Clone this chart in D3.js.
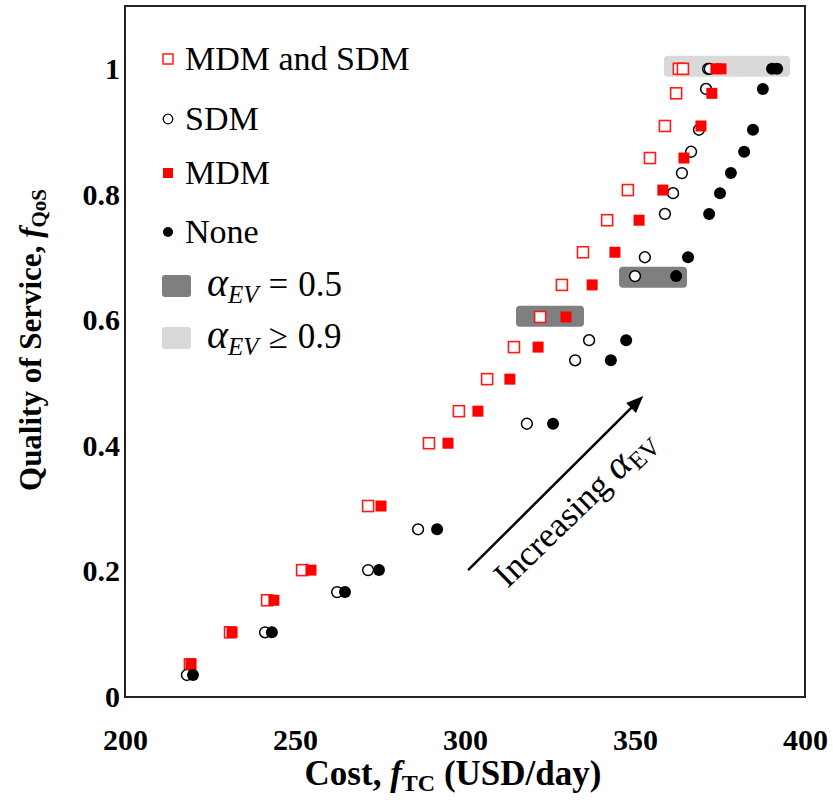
<!DOCTYPE html>
<html>
<head>
<meta charset="utf-8">
<script src="https://cdn.jsdelivr.net/npm/d3@7"></script>
<style>
body{margin:0;background:#fff}
svg{display:block}
</style>
</head>
<body>
<svg width="833" height="802"></svg>
<script>
var qosSquares=[0.052,0.103,0.154,0.202,0.304,0.404,0.455,0.506,0.557,0.605,0.656,0.708,0.759,0.807,0.858,0.909,0.961,1.0,1.0];
var costMdmSdm=[219.1,230.9,241.8,252.1,271.5,289.4,298.2,306.5,314.4,322.1,328.5,334.7,341.8,347.9,354.4,358.8,362.1,362.9,364.1];
var costMdm=[219.4,231.5,243.8,254.7,275.3,295.0,303.8,313.2,321.5,329.7,337.4,344.1,351.2,358.2,364.4,369.4,372.6,373.8,375.3];

var qosCircles=[0.035,0.103,0.167,0.202,0.267,0.435,0.536,0.568,0.670,0.700,0.769,0.802,0.834,0.868,0.903,0.968,1.0,1.0];
var costSdm=[218.2,241.2,262.4,271.5,286.2,318.2,332.4,336.5,350.0,352.9,358.8,361.2,363.8,366.5,368.8,370.9,371.5,372.0];
var costNone=[220.0,243.2,264.7,274.7,291.8,325.9,342.9,347.4,362.1,365.6,371.8,375.0,378.2,382.1,384.7,387.6,390.3,391.8];

// shaded alpha_EV zones
var zoneAlpha=["0.5","0.5","0.9"];
var zoneCost0=[315.0,345.3,358.5];
var zoneCost1=[335.0,365.3,395.6];
var zoneQos=[0.606,0.668,1.004];

var xTicks=[200,250,300,350,400];
var yTicks=[0,0.2,0.4,0.6,0.8,1];

var arrowFrom=[300.9,0.202];
var arrowTo=[352.4,0.479];

var svg=d3.select("svg");
var serif="'Liberation Serif','Times New Roman',serif";

var x=d3.scaleLinear().domain([200,400]).range([125,805]);
var y=d3.scaleLinear().domain([0,1.1]).range([697,6]);

function zoneColor(a){return a=="0.5"?"#7f7f7f":"#d9d9d9";}

//zones
svg.selectAll("rect.zone")
   .data(zoneAlpha.map(function(a,i){return {a:a,c0:zoneCost0[i],c1:zoneCost1[i],q:zoneQos[i]};}))
   .enter()
   .append("rect")
   .attr("class","zone")
   .attr("x",function(d){return x(d.c0);})
   .attr("width",function(d){return x(d.c1)-x(d.c0);})
   .attr("y",function(d){return y(d.q)-10.5;})
   .attr("height",21)
   .attr("rx",4)
   .attr("fill",function(d){return zoneColor(d.a);});

function pairs(cost,qos){return cost.map(function(c,i){return {c:c,q:qos[i]};});}

var sq=11;
//MDM and SDM : open squares
svg.append("g").selectAll("rect")
   .data(pairs(costMdmSdm,qosSquares))
   .enter()
   .append("rect")
   .attr("x",function(d){return x(d.c)-sq/2;})
   .attr("y",function(d){return y(d.q)-sq/2;})
   .attr("width",sq).attr("height",sq)
   .attr("fill","#fff")
   .attr("stroke","#ff1a1a")
   .attr("stroke-width",1.6);

//SDM : open circles
svg.append("g").selectAll("circle")
   .data(pairs(costSdm,qosCircles))
   .enter()
   .append("circle")
   .attr("cx",function(d){return x(d.c);})
   .attr("cy",function(d){return y(d.q);})
   .attr("r",5.4)
   .attr("fill","#fff")
   .attr("stroke","#000")
   .attr("stroke-width",1.5);

//MDM : filled squares
svg.append("g").selectAll("rect")
   .data(pairs(costMdm,qosSquares))
   .enter()
   .append("rect")
   .attr("x",function(d){return x(d.c)-sq/2;})
   .attr("y",function(d){return y(d.q)-sq/2;})
   .attr("width",sq).attr("height",sq)
   .attr("fill","#ff0000");

//None : filled circles
svg.append("g").selectAll("circle")
   .data(pairs(costNone,qosCircles))
   .enter()
   .append("circle")
   .attr("cx",function(d){return x(d.c);})
   .attr("cy",function(d){return y(d.q);})
   .attr("r",6)
   .attr("fill","#000");

//frame
svg.append("rect")
   .attr("x",125).attr("y",6)
   .attr("width",680).attr("height",691)
   .attr("fill","none")
   .attr("stroke","#222")
   .attr("stroke-width",2);

//axes
var xAxis=svg.append("g")
   .attr("transform","translate(0,697)")
   .call(d3.axisBottom(x).tickValues(xTicks).tickSize(0).tickPadding(32).tickFormat(d3.format("d")));
var yAxis=svg.append("g")
   .attr("transform","translate(125,0)")
   .call(d3.axisLeft(y).tickValues(yTicks).tickSize(0).tickPadding(5).tickFormat(function(d){return d===0?"0":d===1?"1":d3.format(".1f")(d);}));
[xAxis,yAxis].forEach(function(a){
	a.select(".domain").remove();
	a.selectAll("text")
	 .attr("fill","#000")
	 .style("font-family",serif)
	 .style("font-size","30px")
	 .style("font-weight","bold");
});

//axis titles
var xt=svg.append("text")
   .attr("x",453).attr("y",785)
   .attr("text-anchor","middle")
   .style("font-family",serif).style("font-size","35px").style("font-weight","bold");
xt.append("tspan").text("Cost, ");
xt.append("tspan").style("font-style","italic").text("f");
xt.append("tspan").attr("dy",6).style("font-size","24px").text("TC");
xt.append("tspan").attr("dy",-6).text(" (USD/day)");

var yt=svg.append("text")
   .attr("transform","translate(41,340) rotate(-90)")
   .attr("text-anchor","middle")
   .style("font-family",serif).style("font-size","31px").style("font-weight","bold");
yt.append("tspan").text("Quality of Service, ");
yt.append("tspan").style("font-style","italic").text("f");
yt.append("tspan").attr("dy",5).style("font-size","21px").text("QoS");

//arrow
var ax0=x(arrowFrom[0]),ay0=y(arrowFrom[1]),ax1=x(arrowTo[0]),ay1=y(arrowTo[1]);
var ang=Math.atan2(ay1-ay0,ax1-ax0);
var hl=17,hw=7;
svg.append("line")
   .attr("x1",ax0).attr("y1",ay0)
   .attr("x2",ax1-Math.cos(ang)*hl*0.8).attr("y2",ay1-Math.sin(ang)*hl*0.8)
   .attr("stroke","#000").attr("stroke-width",2.5);
var bx=ax1-Math.cos(ang)*hl,by=ay1-Math.sin(ang)*hl;
svg.append("polygon")
   .attr("points",[
	 [ax1,ay1],
	 [bx-Math.sin(ang)*hw,by+Math.cos(ang)*hw],
	 [bx+Math.sin(ang)*hw,by-Math.cos(ang)*hw]
   ].map(function(p){return p.join(",");}).join(" "))
   .attr("fill","#000");

var it=svg.append("text")
   .attr("transform","translate("+x(312.5)+","+y(0.172)+") rotate(-44)")
   .style("font-family",serif).style("font-size","35px");
it.append("tspan").text("Increasing ");
it.append("tspan").style("font-style","italic").style("font-size","40px").text("α");
it.append("tspan").attr("dy",6).style("font-size","25px").text("EV");

//legend
var legY=[59,119,173,232];
var legLabels=["MDM and SDM","SDM","MDM","None"];
var lg=svg.append("g");
lg.append("rect").attr("x",163).attr("y",legY[0]-5).attr("width",10).attr("height",10)
  .attr("fill","#fff").attr("stroke","#ff1a1a").attr("stroke-width",1.5);
lg.append("circle").attr("cx",168).attr("cy",legY[1]).attr("r",4.8)
  .attr("fill","#fff").attr("stroke","#000").attr("stroke-width",1.3);
lg.append("rect").attr("x",163).attr("y",legY[2]-5).attr("width",10).attr("height",10)
  .attr("fill","#ff0000");
lg.append("circle").attr("cx",168).attr("cy",legY[3]).attr("r",5)
  .attr("fill","#000");
legLabels.forEach(function(l,i){
	lg.append("text").attr("x",185).attr("y",legY[i]+11)
	  .style("font-family",serif).style("font-size","34px").text(l);
});

var zoneLeg=[{a:"0.5",op:"=",y:286},{a:"0.9",op:"≥",y:338}];
zoneLeg.forEach(function(z){
	lg.append("rect").attr("x",162).attr("y",z.y-11).attr("width",29).attr("height",22)
	  .attr("rx",3).attr("fill",zoneColor(z.a));
	var t=lg.append("text").attr("x",207).attr("y",z.y+10)
	  .style("font-family",serif).style("font-size","35px");
	t.append("tspan").style("font-style","italic").style("font-size","40px").text("α");
	t.append("tspan").attr("dy",7).style("font-style","italic").style("font-size","25px").text("EV");
	t.append("tspan").attr("dy",-7).attr("dx",10).text(z.op);
	t.append("tspan").attr("dx",10).text(z.a);
});
</script>
</body>
</html>
